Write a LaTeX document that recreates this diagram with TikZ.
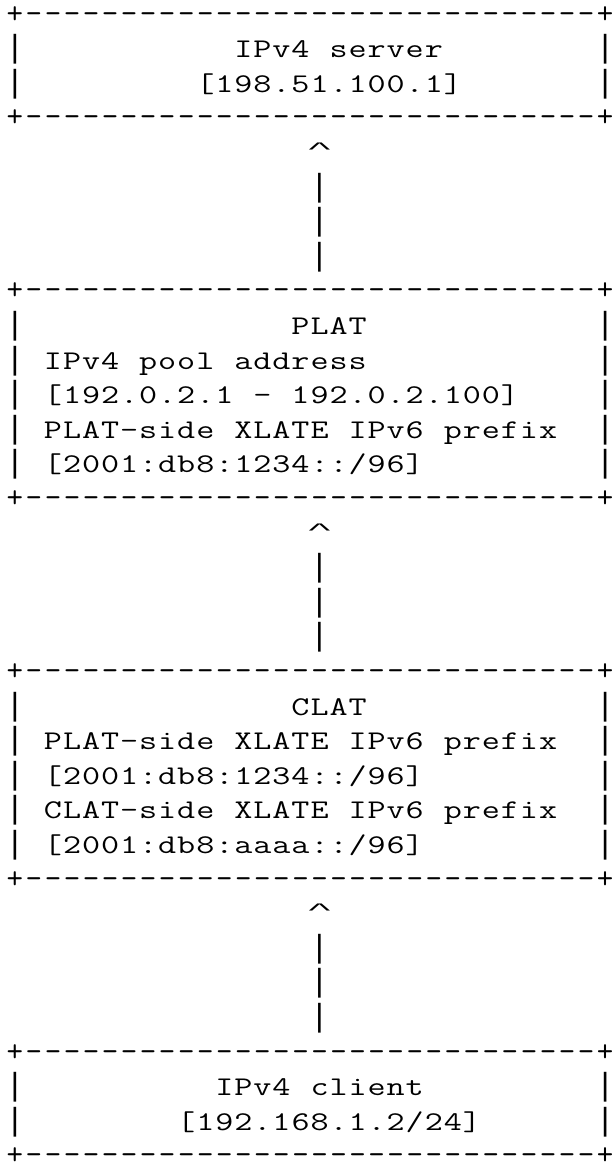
\documentclass[tikz,border=0pt]{standalone}
\usepackage{fontspec}
\usepackage{graphicx}
\newfontfamily\lmono{Liberation Mono}
\ExplSyntaxOn
\cs_new:Npn \mychars #1 #2 { \str_map_inline:nn {#2} { \makebox[19.04pt]{\scalebox{#1}[1]{##1}} } }
\ExplSyntaxOff
\newcommand\caret{\raisebox{8pt}{\scalebox{1.4}[0.5]{\textasciicircum}}}
\begin{document}
\begin{tikzpicture}[x=1pt,y=1pt,
  txt/.style={inner sep=0pt, outer sep=0pt, anchor=base west,
    font=\ttfamily\fontsize{27}{30}\selectfont},
  brdr/.style={inner sep=0pt, outer sep=0pt, anchor=base west,
    font=\ttfamily\fontsize{32}{34}\selectfont},
  glyph/.style={inner sep=0pt, outer sep=0pt, anchor=base,
    font=\lmono\fontsize{32}{34}\selectfont}]
\useasboundingbox (0,0) rectangle (615,-1162);
\newcommand\rowtext[6]{\node[#5] (#1) at ({5.4+19.04*(#2)},{-23-34.6*(#3)}) {\mychars{#6}{#4}};}
\newcommand\glyph[4]{\node[glyph] (#1) at ({5.4+19.04*((#2)+0.5)},{-23-34.6*(#3)}) {#4};}
\newcommand\border[2]{\rowtext{#1}{0}{#2}{+------------------------------+}{brdr}{1}}
\newcommand\tline[4]{\rowtext{#1}{#2}{#3}{#4}{txt}{1.3}}
\newcommand\sides[2]{\glyph{#1l}{0}{#2}{|}\glyph{#1r}{31}{#2}{|}}
\newcommand\arrowup[2]{\glyph{#1tip}{16}{#2}{\caret}%
  \glyph{#1s1}{16}{#2+1}{|}\glyph{#1s2}{16}{#2+2}{|}\glyph{#1s3}{16}{#2+3}{|}}
% Box 1: IPv4 server
\border{b1top}{0}
\sides{b1a}{1}\tline{srvname}{12}{1}{IPv4 server}
\sides{b1b}{2}\tline{srvaddr}{10}{2}{[198.51.100.1]}
\border{b1bot}{3}
\arrowup{a1}{4}
% Box 2: PLAT
\border{b2top}{8}
\sides{b2a}{9}\tline{platname}{15}{9}{PLAT}
\sides{b2b}{10}\tline{plata}{2}{10}{IPv4 pool address}
\sides{b2c}{11}\tline{platb}{2}{11}{[192.0.2.1 - 192.0.2.100]}
\sides{b2d}{12}\tline{platc}{2}{12}{PLAT-side XLATE IPv6 prefix}
\sides{b2e}{13}\tline{platd}{2}{13}{[2001:db8:1234::/96]}
\border{b2bot}{14}
\arrowup{a2}{15}
% Box 3: CLAT
\border{b3top}{19}
\sides{b3a}{20}\tline{clatname}{15}{20}{CLAT}
\sides{b3b}{21}\tline{clata}{2}{21}{PLAT-side XLATE IPv6 prefix}
\sides{b3c}{22}\tline{clatb}{2}{22}{[2001:db8:1234::/96]}
\sides{b3d}{23}\tline{clatc}{2}{23}{CLAT-side XLATE IPv6 prefix}
\sides{b3e}{24}\tline{clatd}{2}{24}{[2001:db8:aaaa::/96]}
\border{b3bot}{25}
\arrowup{a3}{26}
% Box 4: IPv4 client
\border{b4top}{30}
\sides{b4a}{31}\tline{cliname}{11}{31}{IPv4 client}
\sides{b4b}{32}\tline{cliaddr}{9}{32}{[192.168.1.2/24]}
\border{b4bot}{33}
\end{tikzpicture}
\end{document}
